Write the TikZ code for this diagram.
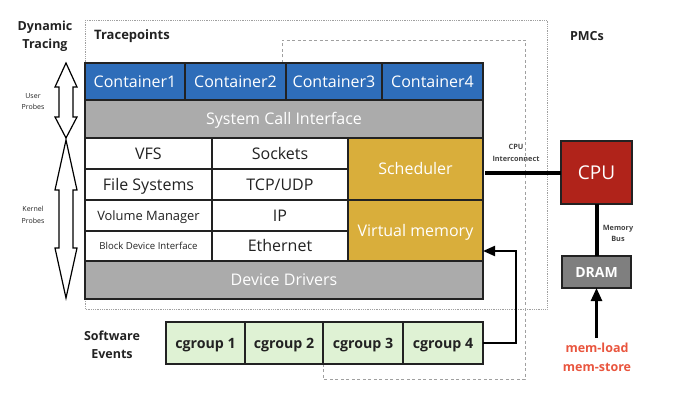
\documentclass[tikz,border=0pt]{standalone}
\usepackage{fontspec}
\setmainfont{Open Sans}
\usetikzlibrary{arrows.meta}
\definecolor{cblue}{HTML}{2E6DB9}
\definecolor{cgray}{HTML}{ABABAB}
\definecolor{cgold}{HTML}{D9AE3B}
\definecolor{cred}{HTML}{B0231A}
\definecolor{cdram}{HTML}{7F7F7F}
\definecolor{cgreen}{HTML}{DFF2D4}
\definecolor{corange}{HTML}{E9553E}
\definecolor{cdark}{HTML}{222222}
\definecolor{cline}{HTML}{A0A0A0}
\newcommand{\fs}[1]{\fontsize{#1}{#1}\selectfont}
\newcommand{\cellnode}[7][]{%
  \pgfmathsetmacro\cw{#5-#3}\pgfmathsetmacro\ch{#6-#4}%
  \pgfmathsetmacro\cx{(#3+#5)/2}\pgfmathsetmacro\cy{(#4+#6)/2}%
  \node[#1, minimum width=\cw pt, minimum height=\ch pt, anchor=center] (#2) at (\cx,\cy) {#7};}
\tikzset{
  cell/.style={draw=cdark, line width=1.1pt, inner sep=0pt, outer sep=0pt, text=cdark, font=\fs{16}, text height=11.5pt, text depth=0pt},
  bluecell/.style={cell, fill=cblue, text=white},
  graycell/.style={cell, fill=cgray, text=white},
  goldcell/.style={cell, fill=cgold, text=white},
  whitecell/.style={cell, fill=white},
  greencell/.style={cell, fill=cgreen, font=\bfseries\fs{14.2}, text height=10.2pt},
  heading/.style={font=\bfseries\fs{12.5}, text=cdark, align=center, inner sep=0pt},
  tiny/.style={font=\fs{7}, text=cdark, align=center, inner sep=0pt},
  tinyb/.style={font=\bfseries\fs{7.3}, text=cdark!85, align=center, inner sep=0pt},
  probearrow/.style={draw=black, fill=white, line width=1.2pt, line join=miter},
  thickline/.style={line width=4pt, draw=black},
  arr/.style={line width=2pt, draw=black, -{Triangle[length=12pt,width=10pt]}},
}
\begin{document}
\begin{tikzpicture}[x=1pt,y=-1pt]
\useasboundingbox (0,0) rectangle (680,406);
% region boxes
\draw[cline, line width=0.7pt, dash pattern=on 0.9pt off 0.9pt] (85,20) rectangle (547,309);
\draw[cline, line width=0.8pt, dash pattern=on 3pt off 2.5pt] (282,63) -- (282,40) -- (525,40) -- (525,379) -- (323,379) -- (323,364);
% containers
\cellnode[bluecell]{c1}{85}{63}{185}{100}{Container1}
\cellnode[bluecell]{c2}{185}{63}{286}{100}{Container2}
\cellnode[bluecell]{c3}{286}{63}{382}{100}{Container3}
\cellnode[bluecell]{c4}{382}{63}{483}{100}{Container4}
\cellnode[graycell]{sci}{85}{100}{483}{138}{System Call Interface}
% white cells
\cellnode[whitecell]{vfs}{85}{138}{212}{169}{VFS}
\cellnode[whitecell]{sock}{212}{138}{348}{169}{Sockets}
\cellnode[whitecell]{fsys}{85}{169}{212}{200}{File Systems}
\cellnode[whitecell]{tcp}{212}{169}{348}{200}{TCP/UDP}
\cellnode[whitecell, font=\fs{12.9}, text height=9.3pt]{vol}{85}{200}{212}{231}{Volume Manager}
\cellnode[whitecell]{ip}{212}{200}{348}{231}{IP}
\cellnode[whitecell, font=\fs{9.6}, text height=6.9pt]{blk}{85}{231}{212}{261}{Block Device Interface}
\cellnode[whitecell]{eth}{212}{231}{348}{261}{Ethernet}
\cellnode[goldcell]{sched}{348}{138}{483}{200}{Scheduler}
\cellnode[goldcell]{vm}{348}{200}{483}{261}{Virtual memory}
\cellnode[graycell]{dd}{85}{261}{483}{299}{Device Drivers}
% cgroups
\cellnode[greencell]{g1}{166}{322}{245}{364}{cgroup 1}
\cellnode[greencell]{g2}{245}{322}{323}{364}{cgroup 2}
\cellnode[greencell]{g3}{323}{322}{403}{364}{cgroup 3}
\cellnode[greencell]{g4}{403}{322}{483}{364}{cgroup 4}
% CPU and DRAM
\cellnode[cell, fill=cred, text=white, font=\fs{19}, text height=13.7pt]{cpu}{561}{141}{632}{204}{CPU}
\cellnode[cell, fill=cdram, text=white, font=\bfseries\fs{14}, text height=10pt]{dram}{562}{256}{631}{288}{DRAM}
% probe arrows
\draw[probearrow] (66,63) -- (77,87) -- (73,87) -- (73,117) -- (77,117) -- (66,138) -- (55,117) -- (59,117) -- (59,87) -- (55,87) -- cycle;
\draw[probearrow] (66,140) -- (77,190) -- (73,190) -- (73,248) -- (77,248) -- (66,298) -- (55,248) -- (59,248) -- (59,190) -- (55,190) -- cycle;
% connectors
\coordinate (icL) at (485,173);
\draw[thickline] (icL) -- (cpu.west |- icL);
\draw[thickline] (cpu.south) -- (dram.north);
\coordinate (ml) at (596.5,338);
\draw[line width=2.5pt, -{Triangle[length=13pt,width=11pt]}] (ml) -- (dram.south);
\coordinate (bend1) at (516,343);
\coordinate (bend2) at (516,251);
\draw[arr] (g4.east) -- (bend1) -- (bend2) -- (vm.east |- bend2);
% labels
\node[heading] (dyn) at (45,27) {Dynamic};
\node[heading] (trc) at (45,45) {Tracing};
\node[heading, font=\bfseries\fs{13}] (tp) at (132,36) {Tracepoints};
\node[heading] (pmc) at (587,36) {PMCs};
\node[tiny] (up1) at (33,96) {User};
\node[tiny] (up2) at (33,107) {Probes};
\node[tiny] (kp1) at (33,209) {Kernel};
\node[tiny] (kp2) at (33,221) {Probes};
\node[tinyb] (ic1) at (516,147) {CPU};
\node[tinyb] (ic2) at (516,159) {Interconnect};
\node[tinyb] (mb1) at (618,229) {Memory};
\node[tinyb] (mb2) at (618,239) {Bus};
\node[heading] (sw1) at (112,336) {Software};
\node[heading] (sw2) at (112,354) {Events};
\node[heading, text=corange] (mem1) at (597,348) {mem-load};
\node[heading, text=corange] (mem2) at (597,367) {mem-store};
\end{tikzpicture}
\end{document}
